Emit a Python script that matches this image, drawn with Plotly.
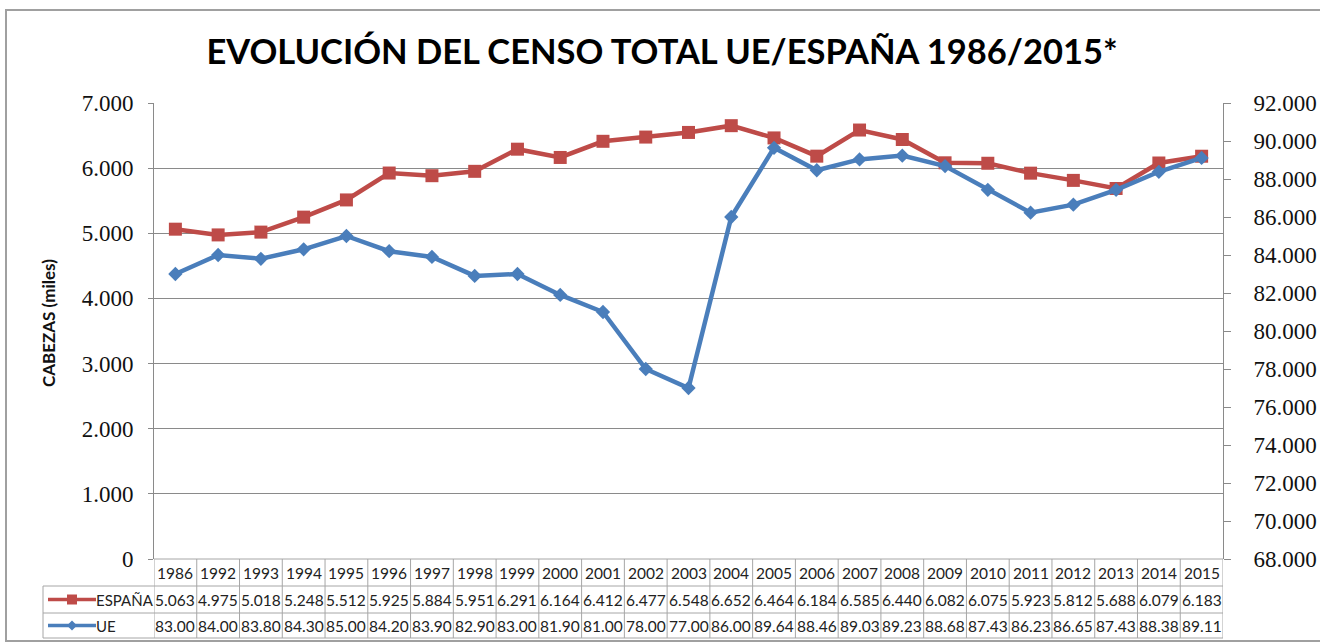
import plotly.graph_objects as go

years = ["1986", "1992", "1993", "1994", "1995", "1996", "1997", "1998", "1999", "2000",
         "2001", "2002", "2003", "2004", "2005", "2006", "2007", "2008", "2009", "2010",
         "2011", "2012", "2013", "2014", "2015"]
espana = [5.063, 4.975, 5.018, 5.248, 5.512, 5.925, 5.884, 5.951, 6.291, 6.164,
          6.412, 6.477, 6.548, 6.652, 6.464, 6.184, 6.585, 6.440, 6.082, 6.075,
          5.923, 5.812, 5.688, 6.079, 6.183]
ue = [83.00, 84.00, 83.80, 84.30, 85.00, 84.20, 83.90, 82.90, 83.00, 81.90,
      81.00, 78.00, 77.00, 86.00, 89.64, 88.46, 89.03, 89.23, 88.68, 87.43,
      86.23, 86.65, 87.43, 88.38, 89.11]

W, H = 1320, 643
L, R, T, B = 154, 1223, 103, 559
PW, PH = R - L, B - T

RED = "#BE4B48"
BLUE = "#4A7EBB"
GRID = "#8A8A8A"
TLINE = "#A6A6A6"

def px_x(p):
    return (p - L) / PW

def px_y(p):
    return (B - p) / PH

fig = go.Figure()
fig.add_trace(go.Scatter(
    x=years, y=[v * 1000 for v in espana], name="ESPAÑA", mode="lines+markers",
    line=dict(color=RED, width=4.5), marker=dict(symbol="square", size=13, color=RED),
    yaxis="y", showlegend=False))
fig.add_trace(go.Scatter(
    x=years, y=[v * 1000 for v in ue], name="UE", mode="lines+markers",
    line=dict(color=BLUE, width=4.5), marker=dict(symbol="diamond", size=11, color=BLUE),
    yaxis="y2", showlegend=False))

shapes = []
annotations = []

# outer frame
shapes.append(dict(type="rect", xref="paper", yref="paper",
                   x0=px_x(6), x1=px_x(1330), y0=px_y(641), y1=px_y(10),
                   line=dict(color="#A0A0A0", width=2), fillcolor="rgba(0,0,0,0)", layer="below"))

# data table
rows_y = [559, 586, 613, 638]
n = len(years)
for i in range(n + 1):
    shapes.append(dict(type="line", xref="x", yref="paper", x0=i - 0.5, x1=i - 0.5,
                       y0=px_y(rows_y[0]), y1=px_y(rows_y[-1]), line=dict(color=TLINE, width=1)))
shapes.append(dict(type="line", xref="paper", yref="paper", x0=px_x(43), x1=px_x(43),
                   y0=px_y(rows_y[1]), y1=px_y(rows_y[-1]), line=dict(color=TLINE, width=1)))
shapes.append(dict(type="line", xref="x", yref="paper", x0=-0.5, x1=n - 0.5,
                   y0=px_y(rows_y[0]), y1=px_y(rows_y[0]), line=dict(color=TLINE, width=1)))
for ry in rows_y[1:]:
    shapes.append(dict(type="line", xref="paper", yref="paper", x0=px_x(43), x1=1,
                       y0=px_y(ry), y1=px_y(ry), line=dict(color=TLINE, width=1)))

tfont = dict(family="Lato, Noto Sans, sans-serif", size=15.5, color="#222222")
lfont = dict(family="Lato, Noto Sans, sans-serif", size=15, color="#222222")
centers = [(rows_y[k] + rows_y[k + 1]) / 2 for k in range(3)]
for i, yr in enumerate(years):
    for k, txt in enumerate([yr, f"{espana[i]:.3f}", f"{ue[i]:.2f}"]):
        annotations.append(dict(x=i, y=px_y(centers[k]), xref="x", yref="paper", text=txt,
                                xanchor="center", yanchor="middle", showarrow=False, font=tfont))

# legend keys in table
for k, (lab, col, sym) in enumerate([("ESPAÑA", RED, "square"), ("UE", BLUE, "diamond")]):
    cy = centers[k + 1]
    shapes.append(dict(type="line", xref="paper", yref="paper", x0=px_x(48), x1=px_x(96),
                       y0=px_y(cy), y1=px_y(cy), line=dict(color=col, width=3.5)))
    if sym == "square":
        shapes.append(dict(type="rect", xref="paper", yref="paper", x0=px_x(67), x1=px_x(77),
                           y0=px_y(cy + 5), y1=px_y(cy - 5), line=dict(color=col, width=0),
                           fillcolor=col))
    else:
        path = (f"M {px_x(72)},{px_y(cy - 5)} L {px_x(77)},{px_y(cy)} "
                f"L {px_x(72)},{px_y(cy + 5)} L {px_x(67)},{px_y(cy)} Z")
        shapes.append(dict(type="path", xref="paper", yref="paper", path=path,
                           line=dict(color=col, width=0), fillcolor=col))
    annotations.append(dict(x=px_x(94), y=px_y(cy), xref="paper", yref="paper", text=lab,
                            xanchor="left", yanchor="middle", showarrow=False, font=lfont))

# y-axis title
annotations.append(dict(x=px_x(48), y=px_y(323), xref="paper", yref="paper",
                        text="<b>CABEZAS (miles)</b>", textangle=-90, showarrow=False,
                        xanchor="center", yanchor="middle",
                        font=dict(family="Lato, Noto Sans, sans-serif", size=17, color="#111111")))

tickfont = dict(family="Liberation Serif, serif", size=23, color="#111111")
fig.update_layout(
    width=W, height=H,
    margin=dict(l=L, r=W - R, t=T, b=H - B, autoexpand=False),
    paper_bgcolor="white", plot_bgcolor="white",
    separators=",.",
    title=dict(text="<b>EVOLUCIÓN DEL CENSO TOTAL UE/ESPAÑA 1986/2015*</b>",
               x=662 / W, xanchor="center", y=1 - 52 / H, yanchor="middle",
               font=dict(family="Lato, sans-serif", size=34.5, color="#000000")),
    xaxis=dict(type="category", range=[-0.5, n - 0.5], showticklabels=False, ticks="",
               showgrid=False, showline=False, zeroline=False, fixedrange=True,
               automargin=False),
    yaxis=dict(range=[0, 7000], dtick=1000, tickformat=",d", showgrid=True, gridcolor=GRID,
               gridwidth=1, showline=True, linecolor=GRID, linewidth=1, ticks="outside",
               ticklen=5, tickcolor=GRID, tickfont=tickfont, ticklabelstandoff=10,
               zeroline=False, automargin=False),
    yaxis2=dict(range=[68000, 92000], dtick=2000, tickformat=",d", overlaying="y", side="right",
                showgrid=False, showline=True, linecolor=GRID, linewidth=1, ticks="outside",
                ticklen=7, tickcolor=GRID, tickfont=tickfont, ticklabelstandoff=18,
                zeroline=False, automargin=False),
    yaxis3=dict(range=[68000, 92000], dtick=2000, overlaying="y", side="right", anchor="x",
                showgrid=False, showline=False, ticks="inside", ticklen=7, tickcolor=GRID,
                showticklabels=False, zeroline=False, automargin=False),
    shapes=shapes, annotations=annotations,
)
fig.write_html("out.html", config={"displayModeBar": False})

with open("out.html", "r", encoding="utf-8") as f:
    html = f.read()
html = html.replace("<head>", "<head><style>html,body{margin:0;padding:0;overflow:hidden;}</style>", 1)
with open("out.html", "w", encoding="utf-8") as f:
    f.write(html)
